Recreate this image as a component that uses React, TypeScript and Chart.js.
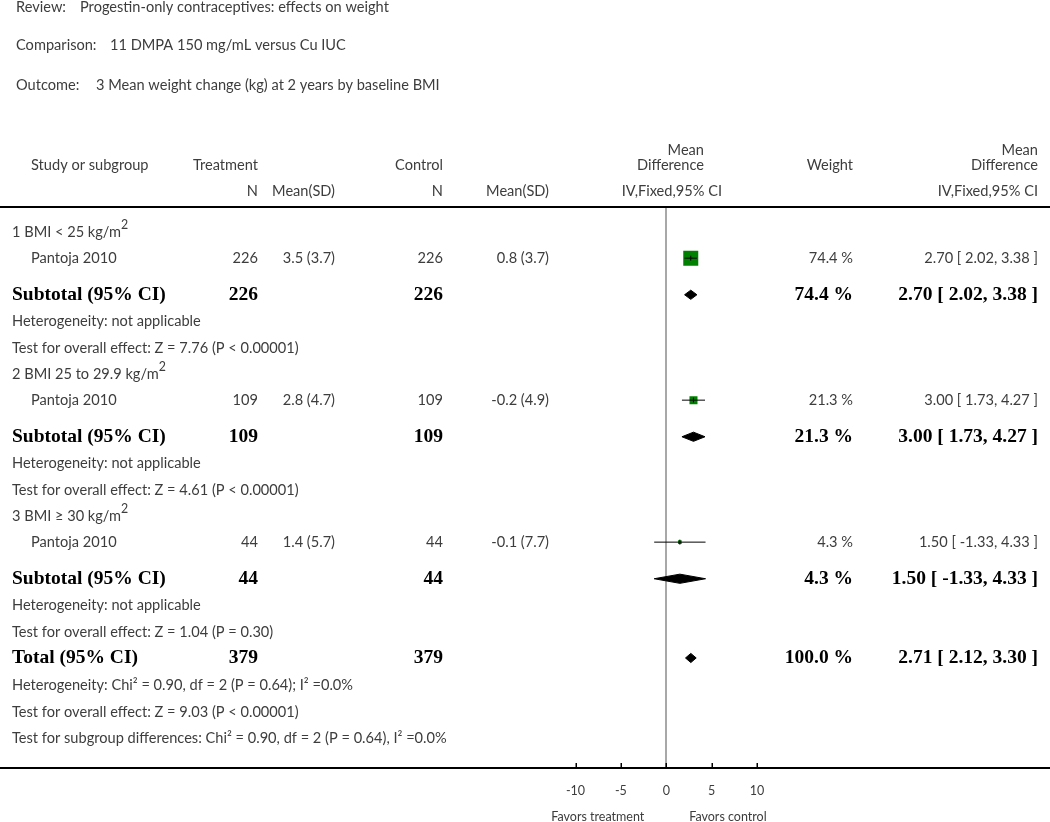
import React, { useEffect, useRef } from 'react';
import { Chart, registerables } from 'chart.js';

Chart.register(...registerables);

// ---------- data ----------
const reviewTitle = 'Progestin-only contraceptives: effects on weight';
const comparisonTitle = '11 DMPA 150 mg/mL versus Cu IUC';
const outcomeTitle = '3 Mean weight change (kg) at 2 years by baseline BMI';

const subgroupLabels = ['1 BMI < 25 kg/m^2', '2 BMI 25 to 29.9 kg/m^2', '3 BMI \u2265 30 kg/m^2'];
const studyNames = ['Pantoja 2010', 'Pantoja 2010', 'Pantoja 2010'];
const treatmentN = [226, 109, 44];
const treatmentMeanSD = ['3.5 (3.7)', '2.8 (4.7)', '1.4 (5.7)'];
const controlN = [226, 109, 44];
const controlMeanSD = ['0.8 (3.7)', '-0.2 (4.9)', '-0.1 (7.7)'];
const studyMD = [2.7, 3.0, 1.5];
const studyLow = [2.02, 1.73, -1.33];
const studyHigh = [3.38, 4.27, 4.33];
const studyWeight = [74.4, 21.3, 4.3];

const subtotalTreatmentN = [226, 109, 44];
const subtotalControlN = [226, 109, 44];
const subtotalMD = [2.7, 3.0, 1.5];
const subtotalLow = [2.02, 1.73, -1.33];
const subtotalHigh = [3.38, 4.27, 4.33];
const subtotalWeight = [74.4, 21.3, 4.3];
const heterogeneityTexts = [
  'Heterogeneity: not applicable',
  'Heterogeneity: not applicable',
  'Heterogeneity: not applicable',
];
const overallEffectTexts = [
  'Test for overall effect: Z = 7.76 (P < 0.00001)',
  'Test for overall effect: Z = 4.61 (P < 0.00001)',
  'Test for overall effect: Z = 1.04 (P = 0.30)',
];

const totalTreatmentN = 379;
const totalControlN = 379;
const totalMD = 2.71;
const totalLow = 2.12;
const totalHigh = 3.3;
const totalWeight = 100.0;
const totalNotes = [
  'Heterogeneity: Chi\u00B2 = 0.90, df = 2 (P = 0.64); I\u00B2 =0.0%',
  'Test for overall effect: Z = 9.03 (P < 0.00001)',
  'Test for subgroup differences: Chi\u00B2 = 0.90, df = 2 (P = 0.64), I\u00B2 =0.0%',
];

const xTicks = [-10, -5, 0, 5, 10];
const favorsLeft = 'Favors treatment';
const favorsRight = 'Favors control';

// ---------- layout / style ----------
const W = 1050;
const H = 822;
const AREA_TOP = 208;
const AREA_BOTTOM = 768;
const ROW_PX = 26.15;
const FIRST_ROW_PX = 232;
const SANS = 'Lato, "Open Sans", sans-serif';
const SERIF = '"Liberation Serif", "Times New Roman", serif';
const FONT_N = `14.6px ${SANS}`;
const FONT_B = `bold 19.5px ${SERIF}`;
const FONT_AX = `12.5px ${SANS}`;
const TEXT = '#3d3d3d';
const BOLD_TEXT = '#000000';
const GREEN = '#008000';

const COL = {
  indent0: 12,
  indent1: 31,
  tN: 258,
  tMean: 335,
  cN: 443,
  cMean: 549,
  weight: 853,
  ci: 1038,
};

type Row = { kind: 'group' | 'study' | 'subtotal' | 'note' | 'total'; g?: number; text?: string; y: number };

function buildRows(): Row[] {
  const raw: Omit<Row, 'y'>[] = [];
  for (let g = 0; g < subgroupLabels.length; g++) {
    raw.push({ kind: 'group', g });
    raw.push({ kind: 'study', g });
    raw.push({ kind: 'subtotal', g });
    raw.push({ kind: 'note', text: heterogeneityTexts[g] });
    raw.push({ kind: 'note', text: overallEffectTexts[g] });
  }
  raw.push({ kind: 'total' });
  totalNotes.forEach((t) => raw.push({ kind: 'note', text: t }));
  const rows: Row[] = [];
  let y = (FIRST_ROW_PX - AREA_TOP) / ROW_PX;
  raw.forEach((r, i) => {
    if (i > 0) {
      const prev = raw[i - 1].kind;
      let gap = 1;
      if (r.kind === 'subtotal') gap = 1.4;
      else if (prev === 'subtotal') gap = 1.03;
      else if (prev === 'total') gap = 1.06;
      y += gap;
    }
    rows.push({ ...r, y });
  });
  return rows;
}

const fmtCI = (m: number, lo: number, hi: number) => `${m.toFixed(2)} [ ${lo.toFixed(2)}, ${hi.toFixed(2)} ]`;
const fmtW = (w: number) => `${w.toFixed(1)} %`;

function drawText(
  ctx: CanvasRenderingContext2D,
  text: string,
  x: number,
  y: number,
  align: 'left' | 'right' | 'center',
  font: string,
  color: string
) {
  const parts = text.split('^');
  const segs: { t: string; sup: boolean }[] = [{ t: parts[0], sup: false }];
  for (let i = 1; i < parts.length; i++) {
    segs.push({ t: parts[i][0], sup: true });
    if (parts[i].length > 1) segs.push({ t: parts[i].slice(1), sup: false });
  }
  const m = font.match(/([\d.]+)px/);
  const size = m ? parseFloat(m[1]) : 14;
  const supFont = font.replace(/([\d.]+)px/, `${(size * 0.85).toFixed(1)}px`);
  ctx.save();
  ctx.fillStyle = color;
  ctx.textBaseline = 'middle';
  ctx.textAlign = 'left';
  let total = 0;
  const widths = segs.map((s) => {
    ctx.font = s.sup ? supFont : font;
    const w = ctx.measureText(s.t).width;
    total += w;
    return w;
  });
  let cx = align === 'left' ? x : align === 'right' ? x - total : x - total / 2;
  segs.forEach((s, i) => {
    ctx.font = s.sup ? supFont : font;
    ctx.fillText(s.t, cx, s.sup ? y - size * 0.5 : y);
    cx += widths[i];
  });
  ctx.restore();
}

export default function App() {
  const ref = useRef<HTMLCanvasElement>(null);

  useEffect(() => {
    const canvas = ref.current;
    if (!canvas) return;
    const rows = buildRows();
    const yMax = (AREA_BOTTOM - AREA_TOP) / ROW_PX;
    const diamondHalf = 4.6 / ROW_PX;

    const studyRows = rows.filter((r) => r.kind === 'study');
    const subtotalRows = rows.filter((r) => r.kind === 'subtotal');
    const totalRow = rows.find((r) => r.kind === 'total')!;

    const datasets: any[] = [];
    // CI lines
    studyRows.forEach((r) => {
      const g = r.g!;
      datasets.push({
        data: [
          { x: studyLow[g], y: r.y },
          { x: studyHigh[g], y: r.y },
        ],
        showLine: true,
        borderColor: '#000',
        borderWidth: 1,
        pointRadius: 0,
        order: 1,
      });
    });
    // squares
    datasets.push({
      data: studyRows.map((r) => ({ x: studyMD[r.g!], y: r.y })),
      pointStyle: 'rect',
      pointRadius: studyRows.map((r) => 1.23 * Math.sqrt(studyWeight[r.g!])),
      backgroundColor: GREEN,
      borderWidth: 0,
      order: 3,
    });
    // point estimate ticks
    datasets.push({
      data: studyRows.map((r) => ({ x: studyMD[r.g!], y: r.y })),
      pointStyle: 'line',
      rotation: 90,
      pointRadius: 2.5,
      borderColor: '#000',
      borderWidth: 1,
      order: 0,
    });
    // diamonds
    const diamonds = subtotalRows.map((r) => ({
      m: subtotalMD[r.g!],
      lo: subtotalLow[r.g!],
      hi: subtotalHigh[r.g!],
      y: r.y,
    }));
    diamonds.push({ m: totalMD, lo: totalLow, hi: totalHigh, y: totalRow.y });
    diamonds.forEach((d) => {
      datasets.push({
        data: [
          { x: d.lo, y: d.y },
          { x: d.m, y: d.y - diamondHalf },
          { x: d.hi, y: d.y },
          { x: d.m, y: d.y + diamondHalf },
          { x: d.lo, y: d.y },
        ],
        showLine: true,
        fill: 'shape',
        backgroundColor: '#000',
        borderColor: '#000',
        borderWidth: 1,
        pointRadius: 0,
        tension: 0,
        order: 2,
      });
    });

    const textPlugin = {
      id: 'forestText',
      afterDraw(chart: any) {
        const ctx: CanvasRenderingContext2D = chart.ctx;
        const xs = chart.scales.x;
        const ys = chart.scales.y;

        // titles
        drawText(ctx, 'Review:', 16, 7, 'left', FONT_N, TEXT);
        drawText(ctx, reviewTitle, 80, 7, 'left', FONT_N, TEXT);
        drawText(ctx, 'Comparison:', 16, 45, 'left', FONT_N, TEXT);
        drawText(ctx, comparisonTitle, 110, 45, 'left', FONT_N, TEXT);
        drawText(ctx, 'Outcome:', 16, 85, 'left', FONT_N, TEXT);
        drawText(ctx, outcomeTitle, 96, 85, 'left', FONT_N, TEXT);

        // header
        drawText(ctx, 'Study or subgroup', COL.indent1, 165, 'left', FONT_N, TEXT);
        drawText(ctx, 'Treatment', COL.tN, 165, 'right', FONT_N, TEXT);
        drawText(ctx, 'Control', COL.cN, 165, 'right', FONT_N, TEXT);
        drawText(ctx, 'Mean', 704, 150, 'right', FONT_N, TEXT);
        drawText(ctx, 'Difference', 704, 165, 'right', FONT_N, TEXT);
        drawText(ctx, 'Weight', COL.weight, 165, 'right', FONT_N, TEXT);
        drawText(ctx, 'Mean', COL.ci, 150, 'right', FONT_N, TEXT);
        drawText(ctx, 'Difference', COL.ci, 165, 'right', FONT_N, TEXT);
        drawText(ctx, 'N', COL.tN, 191, 'right', FONT_N, TEXT);
        drawText(ctx, 'Mean(SD)', COL.tMean, 191, 'right', FONT_N, TEXT);
        drawText(ctx, 'N', COL.cN, 191, 'right', FONT_N, TEXT);
        drawText(ctx, 'Mean(SD)', COL.cMean, 191, 'right', FONT_N, TEXT);
        drawText(ctx, 'IV,Fixed,95% CI', 722, 191, 'right', FONT_N, TEXT);
        drawText(ctx, 'IV,Fixed,95% CI', COL.ci, 191, 'right', FONT_N, TEXT);

        // horizontal rules
        ctx.save();
        ctx.strokeStyle = '#000';
        ctx.lineWidth = 2;
        ctx.beginPath();
        ctx.moveTo(0, AREA_TOP - 1);
        ctx.lineTo(W, AREA_TOP - 1);
        ctx.moveTo(0, AREA_BOTTOM);
        ctx.lineTo(W, AREA_BOTTOM);
        ctx.stroke();
        // tick marks
        ctx.lineWidth = 1.5;
        ctx.beginPath();
        xs.ticks.forEach((t: any) => {
          const px = Math.round(xs.getPixelForValue(t.value)) + 0.25;
          ctx.moveTo(px, AREA_BOTTOM);
          ctx.lineTo(px, AREA_BOTTOM - 5);
        });
        ctx.stroke();
        ctx.restore();

        const zeroPx = xs.getPixelForValue(0);
        drawText(ctx, favorsLeft, zeroPx - 22, 817, 'right', FONT_AX, TEXT);
        drawText(ctx, favorsRight, zeroPx + 23, 817, 'left', FONT_AX, TEXT);

        // rows
        rows.forEach((r) => {
          const py = ys.getPixelForValue(r.y);
          const g = r.g ?? 0;
          if (r.kind === 'group') {
            drawText(ctx, subgroupLabels[g], COL.indent0, py, 'left', FONT_N, TEXT);
          } else if (r.kind === 'study') {
            drawText(ctx, studyNames[g], COL.indent1, py, 'left', FONT_N, TEXT);
            drawText(ctx, String(treatmentN[g]), COL.tN, py, 'right', FONT_N, TEXT);
            drawText(ctx, treatmentMeanSD[g], COL.tMean, py, 'right', FONT_N, TEXT);
            drawText(ctx, String(controlN[g]), COL.cN, py, 'right', FONT_N, TEXT);
            drawText(ctx, controlMeanSD[g], COL.cMean, py, 'right', FONT_N, TEXT);
            drawText(ctx, fmtW(studyWeight[g]), COL.weight, py, 'right', FONT_N, TEXT);
            drawText(ctx, fmtCI(studyMD[g], studyLow[g], studyHigh[g]), COL.ci, py, 'right', FONT_N, TEXT);
          } else if (r.kind === 'subtotal') {
            drawText(ctx, 'Subtotal (95% CI)', COL.indent0, py, 'left', FONT_B, BOLD_TEXT);
            drawText(ctx, String(subtotalTreatmentN[g]), COL.tN, py, 'right', FONT_B, BOLD_TEXT);
            drawText(ctx, String(subtotalControlN[g]), COL.cN, py, 'right', FONT_B, BOLD_TEXT);
            drawText(ctx, fmtW(subtotalWeight[g]), COL.weight, py, 'right', FONT_B, BOLD_TEXT);
            drawText(ctx, fmtCI(subtotalMD[g], subtotalLow[g], subtotalHigh[g]), COL.ci, py, 'right', FONT_B, BOLD_TEXT);
          } else if (r.kind === 'total') {
            drawText(ctx, 'Total (95% CI)', COL.indent0, py, 'left', FONT_B, BOLD_TEXT);
            drawText(ctx, String(totalTreatmentN), COL.tN, py, 'right', FONT_B, BOLD_TEXT);
            drawText(ctx, String(totalControlN), COL.cN, py, 'right', FONT_B, BOLD_TEXT);
            drawText(ctx, fmtW(totalWeight), COL.weight, py, 'right', FONT_B, BOLD_TEXT);
            drawText(ctx, fmtCI(totalMD, totalLow, totalHigh), COL.ci, py, 'right', FONT_B, BOLD_TEXT);
          } else {
            drawText(ctx, r.text || '', COL.indent0, py, 'left', FONT_N, TEXT);
          }
        });
      },
    };

    const chart = new Chart(canvas, {
      type: 'scatter',
      data: { datasets },
      options: {
        responsive: false,
        animation: false,
        devicePixelRatio: 1,
        layout: { padding: { left: 575.5, right: W - 757, top: AREA_TOP, bottom: 0 } },
        plugins: { legend: { display: false }, tooltip: { enabled: false } },
        events: [],
        scales: {
          x: {
            type: 'linear',
            min: -10,
            max: 10,
            afterBuildTicks: (s: any) => {
              s.ticks = xTicks.map((v) => ({ value: v }));
            },
            afterFit: (s: any) => {
              s.height = H - AREA_BOTTOM;
            },
            ticks: {
              autoSkip: false,
              maxRotation: 0,
              padding: 15,
              color: TEXT,
              font: { family: SANS, size: 12.5 },
            },
            grid: {
              drawTicks: false,
              lineWidth: 2,
              color: (c: any) => (c.tick && c.tick.value === 0 ? '#a8a8a8' : 'rgba(0,0,0,0)'),
            },
            border: { display: false },
          },
          y: {
            type: 'linear',
            min: 0,
            max: yMax,
            reverse: true,
            display: false,
          },
        },
      } as any,
      plugins: [textPlugin],
    });
    return () => chart.destroy();
  }, []);

  return (
    <div style={{ position: 'absolute', left: 0, top: 0, width: W, height: H, background: '#fff' }}>
      <canvas ref={ref} width={W} height={H} style={{ display: 'block', width: W, height: H }} />
    </div>
  );
}
